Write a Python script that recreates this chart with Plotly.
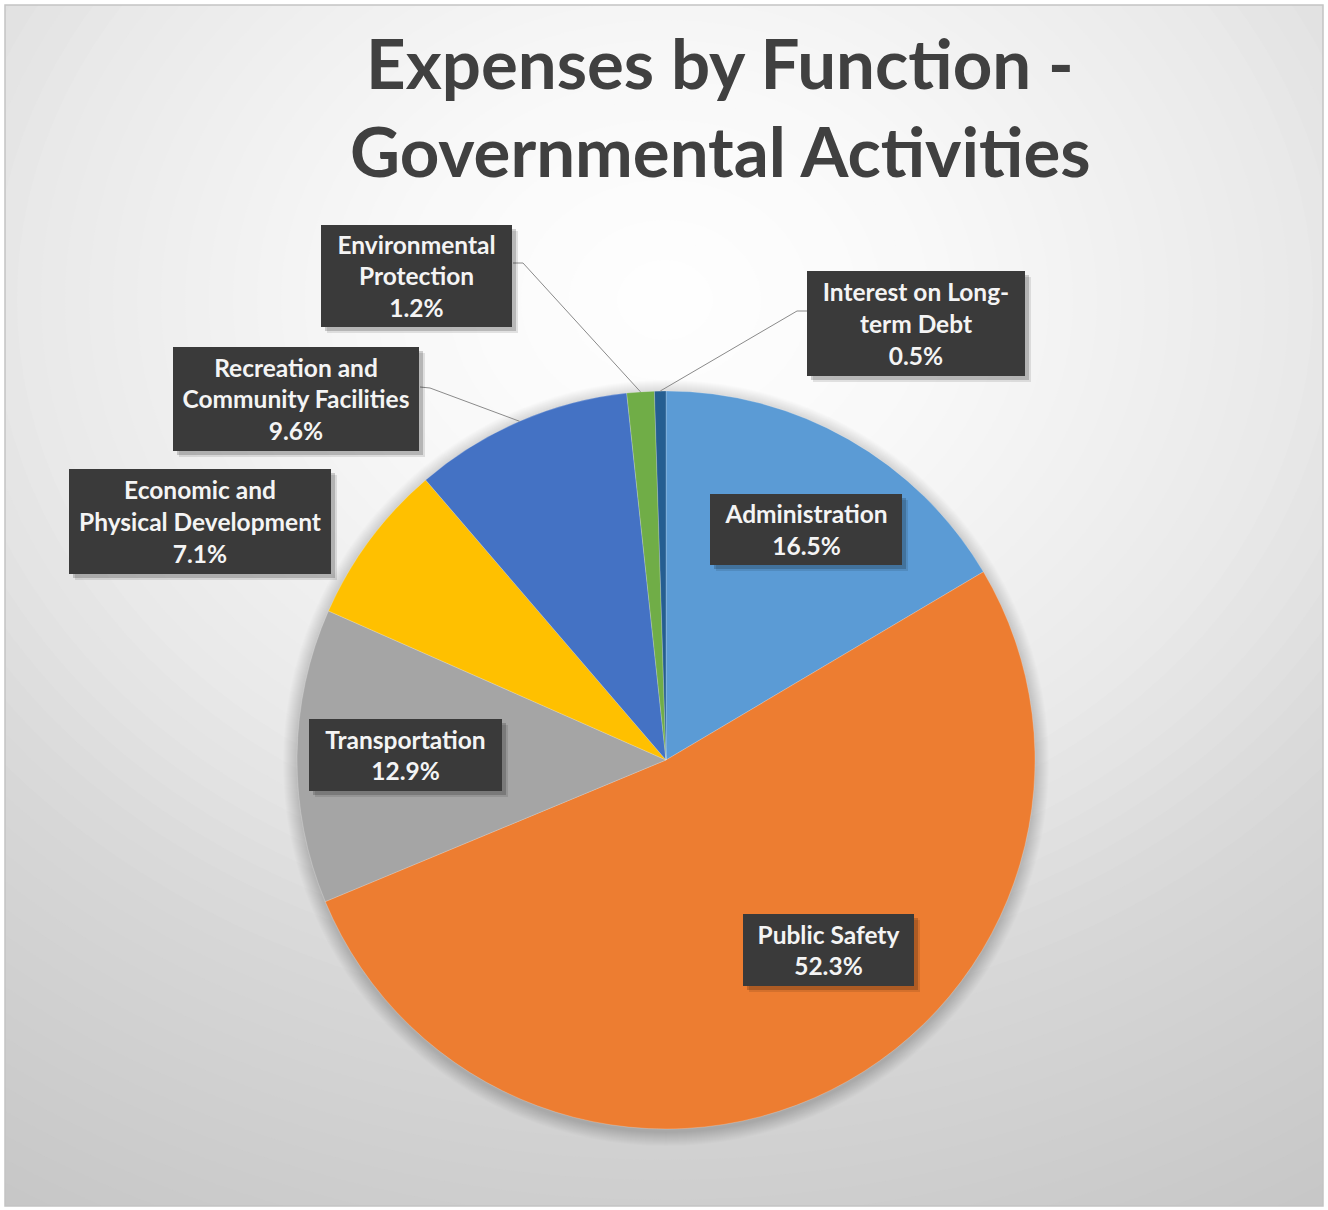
import math
import plotly.graph_objects as go

W, H = 1328, 1210

# ---- data ----
categories = ["Administration", "Public Safety", "Transportation",
              "Economic and Physical Development",
              "Recreation and Community Facilities",
              "Environmental Protection", "Interest on Long-term Debt"]
label_lines = ["Administration", "Public Safety", "Transportation",
               "Economic and<br>Physical Development",
               "Recreation and<br>Community Facilities",
               "Environmental<br>Protection",
               "Interest on Long-<br>term Debt"]
values = [16.5, 52.3, 12.9, 7.1, 9.6, 1.2, 0.5]
colors = ["#5B9BD5", "#ED7D31", "#A5A5A5", "#FFC000", "#4472C4", "#70AD47", "#255E91"]
title_lines = ["Expenses by Function -", "Governmental Activities"]

# ---- layout geometry (pixels) ----
PCX, PCY, PR = 666, 760, 369
dom_x = [(PCX - PR) / W, (PCX + PR) / W]
dom_y = [(H - (PCY + PR)) / H, (H - (PCY - PR)) / H]

def px(x):
    return x / W

def py(y):
    return 1 - y / H

fig = go.Figure()
fig.add_trace(go.Pie(
    labels=categories, values=values, sort=False, direction="clockwise",
    rotation=0, textinfo="none", hoverinfo="label+percent",
    marker=dict(colors=colors, line=dict(color="rgba(255,255,255,0.35)", width=0.6)),
    domain=dict(x=dom_x, y=dom_y), showlegend=False,
))

shapes = []
# radial background gradient
stops = [(0, 255), (250, 248), (550, 232), (750, 214), (1100, 197), (1400, 188)]
def gray_at(d):
    for (d0, g0), (d1, g1) in zip(stops[:-1], stops[1:]):
        if d <= d1:
            return g0 + (g1 - g0) * (d - d0) / (d1 - d0)
    return stops[-1][1]

GCX, GCY, SX = 665, 300, 1.2
R = 1400
while R > 0:
    g = int(round(gray_at(R)))
    shapes.append(dict(type="circle", xref="paper", yref="paper", layer="below",
                       x0=px(GCX - SX * R), x1=px(GCX + SX * R),
                       y0=py(GCY + R), y1=py(GCY - R),
                       fillcolor=f"rgb({g},{g},{g})", line=dict(width=0)))
    R -= 20
# white outer margin + frame
for (x0, y0, x1, y1) in [(0, 0, W, 5), (0, 0, 5, H), (1323, 0, W, H), (0, 1206, W, H)]:
    shapes.append(dict(type="rect", xref="paper", yref="paper", layer="below",
                       x0=px(x0), x1=px(x1), y0=py(y1), y1=py(y0),
                       fillcolor="white", line=dict(width=0)))
shapes.append(dict(type="rect", xref="paper", yref="paper", layer="below",
                   x0=px(5), x1=px(1323), y0=py(1206), y1=py(5),
                   line=dict(color="#c4c4c4", width=1.5)))
# soft shadow around pie
for i in range(14, 0, -1):
    shapes.append(dict(type="circle", xref="paper", yref="paper", layer="below",
                       x0=px(PCX - PR - i), x1=px(PCX + PR + i),
                       y0=py(PCY + 3 + PR + i), y1=py(PCY + 3 - PR - i),
                       fillcolor="rgba(0,0,0,0.011)", line=dict(width=0)))

# leader lines (pie end computed from data)
total = sum(values)
def edge_point(idx):
    cum = sum(values[:idx]) + values[idx] / 2
    th = 2 * math.pi * cum / total
    return PCX + PR * math.sin(th), PCY - PR * math.cos(th)

leaders = {5: [(513, 263), (523, 263)], 6: [(807, 311), (797, 311)], 4: [(420, 387), (430, 388)]}
for idx, pts in leaders.items():
    ex, ey = edge_point(idx)
    allp = pts + [(ex, ey)]
    path = "M " + " L ".join(f"{px(x)},{py(y)}" for x, y in allp)
    shapes.append(dict(type="path", xref="paper", yref="paper", layer="above",
                       path=path, line=dict(color="#8a8a8a", width=1)))

# label boxes: (left, top, width, height)
boxes = [(710, 494, 192, 71), (743, 914, 171, 72), (309, 719, 193, 72),
         (69, 469, 262, 105), (173, 347, 246, 104), (321, 225, 191, 102),
         (807, 271, 218, 105)]

annotations = []
for i, (bx, by, bw, bh) in enumerate(boxes):
    cx, cy = bx + bw / 2, by + bh / 2
    # shadow
    for off, a in [(6, 0.10), (4, 0.18)]:
        annotations.append(dict(xref="paper", yref="paper", x=px(cx + off), y=py(cy + off),
                                xanchor="center", yanchor="middle", text="", showarrow=False,
                                width=bw, height=bh, borderpad=0, borderwidth=0,
                                bgcolor=f"rgba(0,0,0,{a})"))
    annotations.append(dict(xref="paper", yref="paper", x=px(cx), y=py(cy),
                            xanchor="center", yanchor="middle", showarrow=False,
                            text=f"{label_lines[i]}<br>{values[i]:.1f}%",
                            width=bw, height=bh, borderpad=0, borderwidth=0,
                            bgcolor="#3a3a3a", align="center", valign="middle",
                            font=dict(family="Lato", size=24.5, color="#f4f4f4", weight="bold")))

# title
for j, (t, yc) in enumerate(zip(title_lines, [62, 150])):
    annotations.append(dict(xref="paper", yref="paper", x=px(720), y=py(yc),
                            xanchor="center", yanchor="middle", showarrow=False, text=t,
                            font=dict(family="Lato", size=69, color="#404040", weight="bold")))

fig.update_layout(width=W, height=H, margin=dict(l=0, r=0, t=0, b=0),
                  paper_bgcolor="white", plot_bgcolor="white",
                  shapes=shapes, annotations=annotations)
fig.write_html("out.html")
